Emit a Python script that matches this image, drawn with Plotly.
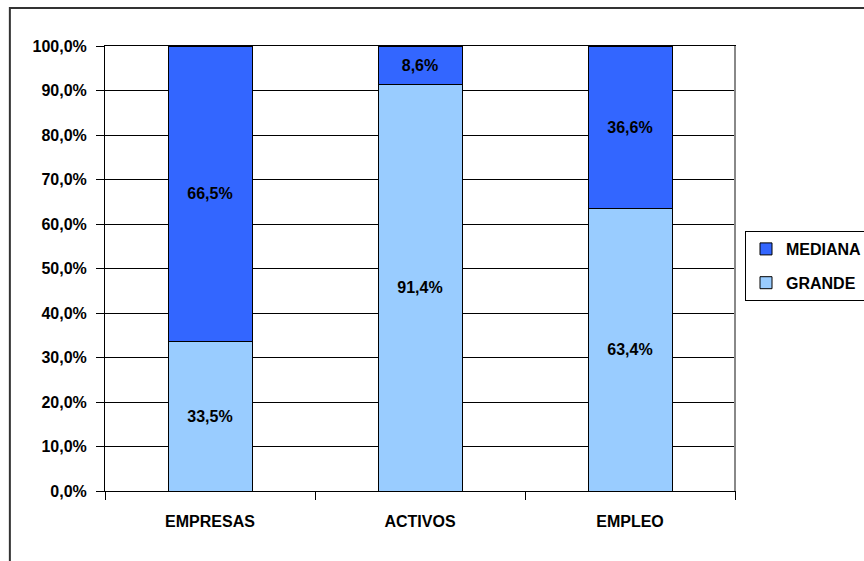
import plotly.graph_objects as go

categories = ["EMPRESAS", "ACTIVOS", "EMPLEO"]
grande = [33.5, 91.4, 63.4]
mediana = [66.5, 8.6, 36.6]
y_ticks = [0, 10, 20, 30, 40, 50, 60, 70, 80, 90, 100]

def fmt(v):
    return f"{v:.1f}%".replace(".", ",")

FONT = "Liberation Sans, Arial, sans-serif"
FS = 16

fig = go.Figure()
fig.add_trace(go.Bar(
    x=categories, y=grande, name="GRANDE", legendgroup="g", legendrank=2,
    marker=dict(color="#99CCFF", line=dict(color="#000000", width=1)),
    text=[fmt(v) for v in grande], textposition="inside", insidetextanchor="middle",
    textfont=dict(family=FONT, size=FS, color="#000000", weight="bold"),
    width=0.4, hoverinfo="skip"))
fig.add_trace(go.Bar(
    x=categories, y=mediana, name="MEDIANA", legendgroup="m", legendrank=1,
    marker=dict(color="#3366FF", line=dict(color="#000000", width=1)),
    text=[fmt(v) for v in mediana], textposition="inside", insidetextanchor="middle",
    textfont=dict(family=FONT, size=FS, color="#000000", weight="bold"),
    width=0.4, hoverinfo="skip"))

fig.update_layout(
    barmode="stack",
    width=864, height=561,
    margin=dict(l=105, r=129, t=46, b=70, autoexpand=False),
    paper_bgcolor="white", plot_bgcolor="white",
    font=dict(family=FONT, size=FS, color="#000000"),
    showlegend=True,
    legend=dict(x=(745 - 105) / 630, xanchor="left", y=(491 - 231) / 445, yanchor="top",
                traceorder="grouped", tracegroupgap=10,
                bordercolor="#000000", borderwidth=1, bgcolor="white",
                font=dict(family=FONT, size=16, weight="bold")),
    xaxis=dict(tickson="boundaries", ticks="outside", ticklen=8, tickcolor="#000000",
               showline=True, linecolor="#000000", mirror=True, showgrid=False,
               tickfont=dict(family=FONT, size=FS, weight="bold"),
               ticklabelstandoff=16, range=[-0.5, 2.5]),
    yaxis=dict(range=[0, 100], tickvals=y_ticks, ticktext=[fmt(v) for v in y_ticks],
               ticks="outside", ticklen=8, tickcolor="#000000",
               showline=True, linecolor="#000000", mirror=True,
               showgrid=True, gridcolor="#000000", gridwidth=1,
               tickfont=dict(family=FONT, size=FS, weight="bold"),
               ticklabelstandoff=6, zeroline=False),
)

# outer chart border (partially visible)
fig.add_shape(type="path", xref="paper", yref="paper",
              path="M -0.151,-0.16 L -0.151,1.0854 L 1.3,1.0854",
              line=dict(color="#333333", width=2))
# grey right edge of plot area
fig.add_shape(type="line", xref="paper", yref="paper", x0=1, x1=1, y0=0, y1=1,
              line=dict(color="#888888", width=2))

fig.write_html("out.html", config={"displayModeBar": False},
               post_script="document.body.style.margin='0';document.body.style.overflow='hidden';")
